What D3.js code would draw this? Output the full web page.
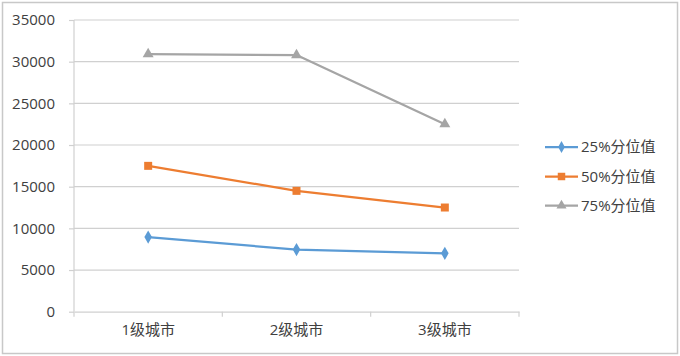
<!DOCTYPE html>
<html><head><meta charset="utf-8">
<script src="https://cdn.jsdelivr.net/npm/d3@7"></script>
<style>body{margin:0;background:#fff}svg{display:block}</style>
</head><body>
<svg id="c" width="680" height="356"></svg>
<script>
const categories = ["1级城市", "2级城市", "3级城市"];
const seriesNames = ["25%分位值", "50%分位值", "75%分位值"];
const p25 = [8950, 7450, 7000];
const p50 = [17500, 14500, 12500];
const p75 = [30900, 30800, 22500];
const yTicks = [0, 5000, 10000, 15000, 20000, 25000, 30000, 35000];
const colors = ["#5B9BD5", "#ED7D31", "#A5A5A5"];
const markers = [d3.symbolDiamond, d3.symbolSquare, d3.symbolTriangle];
const series = [p25, p50, p75];

const svg = d3.select("#c");
const font = "'Open Sans', 'Noto Sans CJK SC', sans-serif";
const fs = 15;
svg.append("rect").attr("x", 2.5).attr("y", 2.5).attr("width", 675).attr("height", 351)
  .attr("fill", "#fff").attr("stroke", "#C8C8C8").attr("stroke-width", 1.5);

const L = 74, R = 519, T = 20, B = 311.7;
const x = d3.scaleBand().domain(categories).range([L, R]);
const y = d3.scaleLinear().domain([0, 35000]).range([B, T]);

const g = svg.append("g");
g.selectAll("line.grid").data(yTicks.filter(d => d > 0)).join("line")
  .attr("x1", L).attr("x2", R).attr("y1", d => y(d)).attr("y2", d => y(d))
  .attr("stroke", "#D0D0D0").attr("stroke-width", 1.2);

const yAxis = d3.axisLeft(y).tickValues(yTicks).tickFormat(d3.format("d")).tickSize(5).tickPadding(14);
const ya = svg.append("g").attr("transform", `translate(${L},0)`).call(yAxis);
ya.select(".domain").attr("stroke", "#D0D0D0").attr("stroke-width", 1.2).attr("d", `M0,${T}V${B}`);
ya.selectAll(".tick line").attr("stroke", "#D0D0D0").attr("stroke-width", 1.2);
ya.selectAll(".tick text").attr("font-family", font).attr("font-size", fs).attr("fill", "#404040");

const xa = svg.append("g").attr("transform", `translate(0,${B})`)
  .call(d3.axisBottom(x).tickSize(0).tickPadding(13));
xa.select(".domain").attr("stroke", "#D0D0D0").attr("stroke-width", 1.2);
xa.selectAll(".tick text").attr("font-family", font).attr("font-size", fs).attr("fill", "#404040");
const bounds = [L, ...categories.map(c => x(c) + x.bandwidth())];
xa.selectAll("line.bt").data(bounds).join("line")
  .attr("x1", d => d).attr("x2", d => d).attr("y1", 0).attr("y2", 5)
  .attr("stroke", "#D0D0D0").attr("stroke-width", 1.2);

series.forEach((vals, i) => {
  const pts = vals.map((v, j) => [x(categories[j]) + x.bandwidth() / 2, y(v)]);
  svg.append("path").attr("d", d3.line()(pts)).attr("fill", "none")
    .attr("stroke", colors[i]).attr("stroke-width", 2.25).attr("stroke-linejoin", "round");
  const size = i === 0 ? 50 : (i === 1 ? 64 : 52);
  svg.selectAll(null).data(pts).join("path")
    .attr("transform", d => `translate(${d[0]},${d[1]})`)
    .attr("d", d3.symbol().type(markers[i]).size(size))
    .attr("fill", colors[i]);
});

const legY = [147, 176.5, 205.5];
seriesNames.forEach((name, i) => {
  const lg = svg.append("g").attr("transform", `translate(0,${legY[i]})`);
  lg.append("line").attr("x1", 545).attr("x2", 578).attr("y1", 0).attr("y2", 0)
    .attr("stroke", colors[i]).attr("stroke-width", 2.25);
  const size = i === 0 ? 40 : (i === 1 ? 56 : 44);
  lg.append("path").attr("transform", "translate(561.5,0)")
    .attr("d", d3.symbol().type(markers[i]).size(size)).attr("fill", colors[i]);
  lg.append("text").attr("x", 581).attr("y", 0).attr("dy", "0.36em")
    .attr("font-family", font).attr("font-size", fs).attr("fill", "#404040").text(name);
});
</script>
</body></html>
